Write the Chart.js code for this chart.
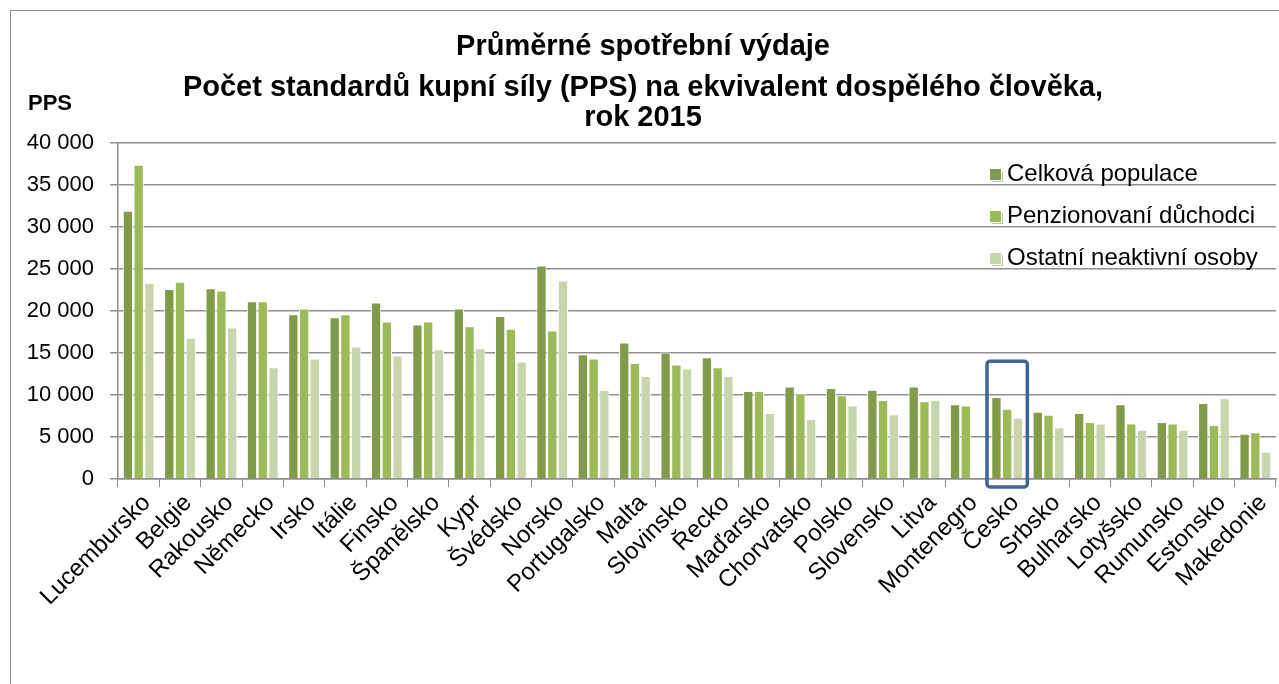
<!DOCTYPE html>
<html lang="cs">
<head>
  <meta charset="UTF-8" />
  <title>Průměrné spotřební výdaje</title>
  <script src="https://cdn.jsdelivr.net/npm/chart.js"></script>
  <style>
    body { margin: 0; overflow: hidden; background: #fff; font-family: "Liberation Sans", Arial, sans-serif; }
    .wrap { position: relative; width: 1279px; height: 684px; overflow: hidden; }
    .frame { position: absolute; left: 10px; top: 10px; width: 1400px; height: 800px; border: 1px solid #8c8c8c; }
    #graf { position: absolute; left: 0; top: 0; }
    .pps { position: absolute; left: 28px; top: 90px; font-weight: bold; font-size: 22px; }
    .legenda { position: absolute; left: 990px; top: 159px; font-size: 24px; }
    .legenda div { height: 42px; line-height: 28px; white-space: nowrap; }
    .legenda span { display: inline-block; width: 11px; height: 11px; margin-right: 6px; vertical-align: 1px; box-shadow: 1px 1px 0 #fff, 2px 2px 0 #b7cc8f; }
  </style>
</head>
<body>
<div class="wrap">
  <div class="frame"></div>
  <canvas id="graf" width="1279" height="684"></canvas>
  <div class="pps">PPS</div>
  <div class="legenda" id="legenda"></div>
</div>

<script>
// data
const zeme = ['Lucembursko', 'Belgie', 'Rakousko', 'Německo', 'Irsko', 'Itálie', 'Finsko', 'Španělsko',
  'Kypr', 'Švédsko', 'Norsko', 'Portugalsko', 'Malta', 'Slovinsko', 'Řecko', 'Maďarsko', 'Chorvatsko',
  'Polsko', 'Slovensko', 'Litva', 'Montenegro', 'Česko', 'Srbsko', 'Bulharsko', 'Lotyšsko', 'Rumunsko',
  'Estonsko', 'Makedonie'];
const celkova = [31900, 22600, 22700, 21150, 19600, 19250, 21000, 18370, 20280, 19400, 25400, 14840,
  16230, 15040, 14480, 10480, 10990, 10830, 10630, 10990, 8890, 9760, 8010, 7860, 8890, 6790, 9050, 5390];
const duchodci = [37380, 23450, 22420, 21150, 20280, 19600, 18730, 18730, 18180, 17860, 17660, 14330,
  13810, 13610, 13290, 10480, 10160, 9960, 9400, 9250, 8730, 8370, 7650, 6790, 6590, 6590, 6430, 5560];
const ostatni = [23300, 16790, 18010, 13290, 14330, 15750, 14680, 15440, 15560, 13970, 23610, 10630,
  12260, 13130, 12260, 7860, 7140, 8770, 7700, 9440, null, 7300, 6150, 6590, 5870, 5870, 9600, 3250];
const nazvySerii = ['Celková populace', 'Penzionovaní důchodci', 'Ostatní neaktivní osoby'];
const barvy = ['#809b49', '#9bbb59', '#c7d6ac'];
const zvyraznit = 'Česko';
const zvyraznitDo = 14000;

const font = '"Liberation Sans", Arial, sans-serif';

// legenda v HTML
const leg = document.getElementById('legenda');
nazvySerii.forEach((n, i) => {
  const d = document.createElement('div');
  d.innerHTML = `<span style="background:${barvy[i]}"></span>${n}`;
  leg.appendChild(d);
});

// ramecek kolem Ceska
const ramecek = {
  id: 'ramecek',
  afterDatasetsDraw(chart) {
    const x = chart.scales.x, y = chart.scales.y;
    const i = zeme.indexOf(zvyraznit);
    const w = x.getPixelForValue(1) - x.getPixelForValue(0);
    const cx = x.getPixelForValue(i);
    const top = y.getPixelForValue(zvyraznitDo);
    const bottom = chart.chartArea.bottom + 8;
    const ctx = chart.ctx;
    ctx.save();
    ctx.strokeStyle = '#3d6496';
    ctx.lineWidth = 3.5;
    ctx.beginPath();
    ctx.roundRect(cx - w / 2 + 0.5, top, w - 1, bottom - top, 3);
    ctx.stroke();
    ctx.restore();
  }
};

const datasets = [celkova, duchodci, ostatni].map((data, i) => ({
  label: nazvySerii[i],
  data: data,
  backgroundColor: barvy[i],
  borderColor: '#ffffff',
  borderWidth: 1,
  categoryPercentage: 0.78,
  barPercentage: 0.96
}));

new Chart(document.getElementById('graf'), {
  type: 'bar',
  data: { labels: zeme, datasets: datasets },
  options: {
    responsive: false,
    animation: false,
    layout: { padding: { left: 10, right: 3, top: 0, bottom: 0 } },
    plugins: {
      legend: { display: false },
      tooltip: { enabled: false },
      title: {
        display: true,
        text: 'Průměrné spotřební výdaje',
        color: '#000',
        font: { family: font, size: 29, weight: 'bold', lineHeight: 1.2 },
        padding: { top: 30, bottom: 8 }
      },
      subtitle: {
        display: true,
        text: ['Počet standardů kupní síly (PPS) na ekvivalent dospělého člověka,', 'rok 2015'],
        color: '#000',
        font: { family: font, size: 29, weight: 'bold', lineHeight: 1.05 },
        padding: { top: 0, bottom: 9 }
      }
    },
    scales: {
      x: {
        grid: { offset: true, drawOnChartArea: false, drawTicks: true, tickLength: 8, color: '#8c8c8c' },
        border: { color: '#8c8c8c', width: 1.5 },
        ticks: {
          color: '#000', font: { family: font, size: 24 }, maxRotation: 45, minRotation: 45,
          autoSkip: false, padding: 2, labelOffset: 8
        },
        afterFit(s) { s.height = 205; }
      },
      y: {
        min: 0, max: 40000,
        grid: { color: '#8f8f8f', lineWidth: 1.5, tickLength: 8 },
        border: { color: '#8c8c8c', width: 1.5 },
        ticks: {
          stepSize: 5000, color: '#000', padding: 16,
          font: { family: font, size: 22 },
          callback: v => v.toLocaleString('en-US').replace(/,/g, ' ')
        },
        afterFit(s) { s.width = 108; }
      }
    }
  },
  plugins: [ramecek]
});
</script>
</body>
</html>
